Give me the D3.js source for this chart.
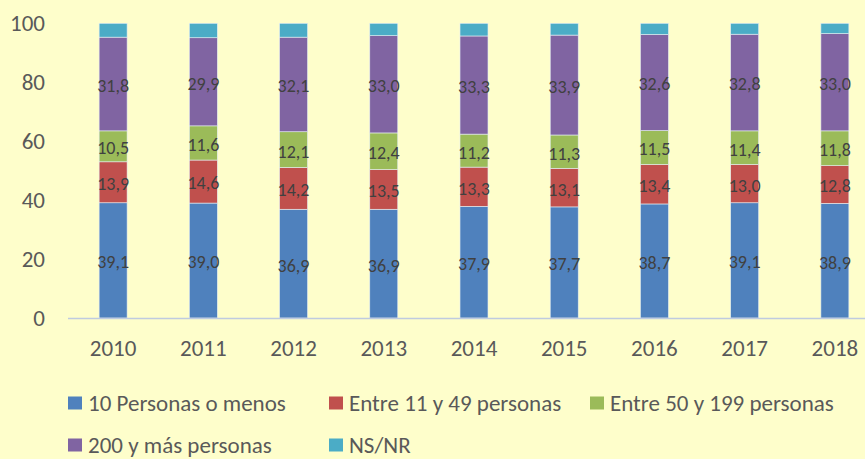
<!DOCTYPE html>
<html>
<head>
<meta charset="utf-8">
<script src="https://cdn.jsdelivr.net/npm/d3@7"></script>
<style>
  html, body { margin: 0; padding: 0; background: #FEFECB; }
  svg { display: block; font-family: Carlito, Calibri, Lato, sans-serif; }
</style>
</head>
<body>
<svg id="chart" width="865" height="459"></svg>
<script>
const years = ["2010", "2011", "2012", "2013", "2014", "2015", "2016", "2017", "2018"];
const seriesNames = ["10 Personas o menos", "Entre 11 y 49 personas", "Entre 50 y 199 personas", "200 y más personas", "NS/NR"];
const personas10 = [39.1, 39.0, 36.9, 36.9, 37.9, 37.7, 38.7, 39.1, 38.9];
const entre11y49 = [13.9, 14.6, 14.2, 13.5, 13.3, 13.1, 13.4, 13.0, 12.8];
const entre50y199 = [10.5, 11.6, 12.1, 12.4, 11.2, 11.3, 11.5, 11.4, 11.8];
const mas200 = [31.8, 29.9, 32.1, 33.0, 33.3, 33.9, 32.6, 32.8, 33.0];
const nsnr = [4.7, 4.9, 4.7, 4.2, 4.3, 4.0, 3.8, 3.7, 3.5];
const yTicks = [0, 20, 40, 60, 80, 100];
const colors = ["#4F81BD", "#C0504D", "#9BBB59", "#8064A2", "#4BACC6"];

const svg = d3.select("#chart");

// tabla para d3.stack
const keys = seriesNames;
const rows = years.map((yr, i) => ({
  year: yr,
  [keys[0]]: personas10[i],
  [keys[1]]: entre11y49[i],
  [keys[2]]: entre50y199[i],
  [keys[3]]: mas200[i],
  [keys[4]]: nsnr[i]
}));
const stacked = d3.stack().keys(keys)(rows);

const x = d3.scaleBand().domain(years).range([68, 880]).paddingInner(0.69).paddingOuter(0.345);
const y = d3.scaleLinear().domain([0, 100]).range([318, 23.3]);

// eje Y (solo etiquetas)
svg.append("g")
  .selectAll("text")
  .data(yTicks)
  .join("text")
  .attr("x", 45)
  .attr("y", d => y(d))
  .attr("dy", "0.33em")
  .attr("text-anchor", "end")
  .attr("font-size", 23)
  .attr("fill", "#595959")
  .text(d => d);

// barras
const layer = svg.append("g")
  .selectAll("g")
  .data(stacked)
  .join("g")
  .attr("fill", (d, i) => colors[i]);

layer.selectAll("rect")
  .data(d => d)
  .join("rect")
  .attr("x", d => x(d.data.year))
  .attr("y", d => y(d[1]))
  .attr("width", x.bandwidth())
  .attr("height", d => y(d[0]) - y(d[1]))
  .attr("stroke", "#E6EEF4")
  .attr("stroke-width", 0.6);

// etiquetas de datos (menos NS/NR)
svg.append("g")
  .selectAll("g")
  .data(stacked.slice(0, 4))
  .join("g")
  .selectAll("text")
  .data(d => d)
  .join("text")
  .attr("x", d => x(d.data.year) + x.bandwidth() / 2)
  .attr("y", d => y((d[0] + d[1]) / 2) + 2)
  .attr("dy", "0.33em")
  .attr("text-anchor", "middle")
  .attr("font-size", 18)
  .attr("fill", "#404040")
  .text(d => d3.format(".1f")(d[1] - d[0]).replace(".", ","));

// eje X
svg.append("line")
  .attr("x1", 68).attr("x2", 865)
  .attr("y1", y(0) + 0.5).attr("y2", y(0) + 0.5)
  .attr("stroke", "#BFCBE0")
  .attr("stroke-width", 1.5);

svg.append("g")
  .selectAll("text")
  .data(years)
  .join("text")
  .attr("x", d => x(d) + x.bandwidth() / 2)
  .attr("y", 348)
  .attr("dy", "0.33em")
  .attr("text-anchor", "middle")
  .attr("font-size", 23)
  .attr("fill", "#595959")
  .text(d => d);

// leyenda
const legendPos = [[68, 403], [329, 403], [590, 403], [68, 445], [329, 445]];
const legend = svg.append("g")
  .selectAll("g")
  .data(seriesNames)
  .join("g")
  .attr("transform", (d, i) => `translate(${legendPos[i][0]},${legendPos[i][1]})`);

legend.append("rect")
  .attr("x", 0).attr("y", -6.5)
  .attr("width", 14).attr("height", 13)
  .attr("fill", (d, i) => colors[i]);

legend.append("text")
  .attr("x", 20)
  .attr("y", 0)
  .attr("dy", "0.33em")
  .attr("font-size", 23)
  .attr("fill", "#595959")
  .text(d => d);
</script>
</body>
</html>
